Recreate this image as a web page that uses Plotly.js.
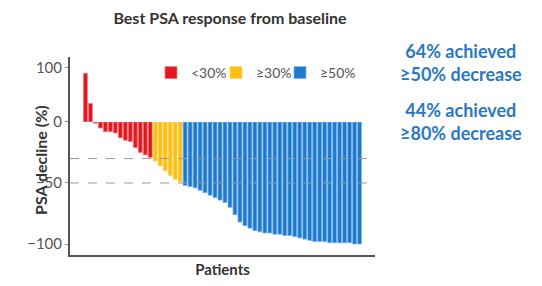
<!DOCTYPE html>
<html>
<head>
<meta charset="utf-8">
<script src="https://cdn.plot.ly/plotly-3.0.1.min.js"></script>
<style>html,body{margin:0;padding:0;background:#fff;}#chart{width:542px;height:286px;}</style>
</head>
<body>
<div id="chart"></div>
<script>
// Best PSA change from baseline (%), one value per patient, sorted
const psaChange = [
  90, 34, -1, -5, -8, -8, -9, -13, -15, -16, -21, -25, -27, -29,
  -32, -36, -40, -44, -47, -49,
  -52, -53, -54, -56, -58, -60, -62, -64, -66, -70, -76,
  -82, -85, -87, -89, -90, -91, -91, -92, -92, -93, -93, -94, -95, -96,
  -97, -98, -98, -98, -99, -99, -99, -99, -99, -100, -100
];
const patients = psaChange.map((_, i) => i + 1);
const groupNames = ['<30%', '≥30%', '≥50%'];
const groupColors = ['#e3171f', '#ffbf10', '#1f78cc'];
const groupLines = ['#f07a7e', '#ffd870', '#7ab8ee'];
const thresholds = [-30, -50];
const yTickValsNeg = [0, -50, -100];
const yTickTextNeg = ['0', '\u221250', '\u2212100'];
const yTickValsPos = [100];
const notes = ['64% achieved<br>≥50% decrease', '44% achieved<br>≥80% decrease'];

const FONT = 'Lato, Open Sans, sans-serif';

function groupOf(v) {
  if (v <= -50) return 2;
  if (v <= -30) return 1;
  return 0;
}

const legendIds = ['legend', 'legend2', 'legend3'];
const legendX = [151, 216, 280];

const traces = [];
groupNames.forEach((name, g) => {
  const xs = [], ys = [];
  patients.forEach((p, i) => {
    const v = psaChange[i];
    if (v < 0 && groupOf(v) === g) { xs.push(p); ys.push(v); }
  });
  traces.push({
    type: 'bar', x: xs, y: ys, name: name, xaxis: 'x', yaxis: 'y',
    legend: legendIds[g],
    marker: {color: groupColors[g], line: {width: 0.8, color: groupLines[g]}},
    hoverinfo: 'skip'
  });
});
// positive changes (increase) on the upper, compressed panel
const px = [], py = [];
patients.forEach((p, i) => { if (psaChange[i] >= 0) { px.push(p); py.push(psaChange[i]); } });
traces.push({
  type: 'bar', x: px, y: py, name: groupNames[0], showlegend: false,
  xaxis: 'x', yaxis: 'y2',
  marker: {color: groupColors[0], line: {width: 0.8, color: groupLines[0]}}, hoverinfo: 'skip'
});

const tickFont = {family: FONT, size: 15, color: '#555'};
const split = 0.672;

const layout = {
  width: 542, height: 286,
  margin: {l: 70, r: 167, t: 57, b: 31},
  paper_bgcolor: '#fff', plot_bgcolor: '#fff',
  barmode: 'relative', bargap: 0.2,
  showlegend: true,
  title: {
    text: '<b>Best PSA response from baseline</b>',
    font: {family: FONT, size: 16, color: '#333'},
    x: 230 / 542, xanchor: 'center', y: 1 - 18 / 286, yanchor: 'middle'
  },
  xaxis: {
    range: [-2.1, 59.1], showticklabels: false, ticks: '', showgrid: false,
    zeroline: false, showline: true, linecolor: '#555', linewidth: 2,
    title: {text: '<b>Patients</b>', font: {family: FONT, size: 15, color: '#333'}, standoff: 8}
  },
  yaxis: {
    domain: [0, split], range: [-109, 0], anchor: 'x',
    tickvals: yTickValsNeg, ticktext: yTickTextNeg, tickfont: tickFont,
    ticks: 'outside', ticklen: 3, tickcolor: '#888',
    showgrid: false, zeroline: false, showline: true, linecolor: '#555', linewidth: 2
  },
  yaxis2: {
    domain: [split, 1], range: [0, 120], anchor: 'x',
    tickvals: yTickValsPos, tickfont: tickFont,
    ticks: 'outside', ticklen: 3, tickcolor: '#888',
    showgrid: false, zeroline: false, showline: true, linecolor: '#555', linewidth: 2
  },
  shapes: thresholds.map(t => ({
    type: 'line', xref: 'paper', x0: 0, x1: 1, yref: 'y', y0: t, y1: t,
    line: {color: '#999', width: 1, dash: 'dash'}, layer: 'above'
  })),
  annotations: notes.map((n, i) => ({
    text: '<b>' + n + '</b>', xref: 'paper', yref: 'paper',
    x: (461 - 70) / 305, y: (255 - (63 + i * 58)) / 198,
    xanchor: 'center', yanchor: 'middle', showarrow: false, align: 'center',
    font: {family: FONT, size: 18, color: '#2a78c2'}
  })).concat([{
    text: '<b>PSA decline (%)</b>', xref: 'paper', yref: 'paper',
    x: (40 - 70) / 305, y: (255 - 160) / 198, textangle: -90,
    xanchor: 'center', yanchor: 'middle', showarrow: false,
    font: {family: FONT, size: 16, color: '#333'}
  }])
};
legendIds.forEach((id, g) => {
  layout[id] = {
    orientation: 'h', x: (legendX[g] - 70) / 305, y: 1.0, xanchor: 'left', yanchor: 'top',
    font: {family: FONT, size: 14, color: '#555'},
    bgcolor: 'rgba(0,0,0,0)', itemwidth: 30
  };
});

Plotly.newPlot('chart', traces, layout, {displayModeBar: false, staticPlot: true});
</script>
</body>
</html>
